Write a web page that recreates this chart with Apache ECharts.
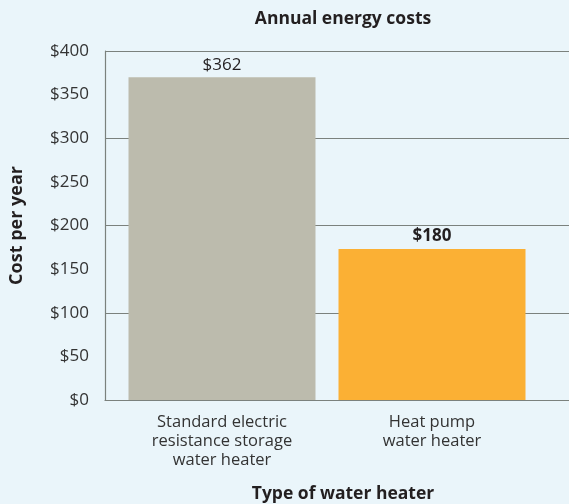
<!DOCTYPE html>
<html>
<head>
<meta charset="utf-8">
<script src="https://cdn.jsdelivr.net/npm/echarts@6/dist/echarts.min.js"></script>
<style>
  html, body { margin: 0; padding: 0; background: #eaf5fa; }
  #chart { width: 569px; height: 504px; }
</style>
</head>
<body>
<div id="chart"></div>
<script>
const categories = [
  'Standard electric\nresistance storage\nwater heater',
  'Heat pump\nwater heater'
];
// bar heights as drawn in the picture, labels as printed on it
const costs = [370, 173];
const costLabels = ['$362', '$180'];
const barColors = ['#bcbbad', '#fbb034'];
const labelWeights = ['normal', 'bold'];

const FONT = '"Open Sans", "Noto Sans", sans-serif';
const LINE = '#7b817d';

const chart = echarts.init(document.getElementById('chart'));

const option = {
  backgroundColor: '#eaf5fa',
  textStyle: { fontFamily: FONT },
  title: [
    {
      text: 'Annual energy costs',
      left: 338, top: 5, textAlign: 'center',
      textStyle: { fontFamily: FONT, fontSize: 17.5, fontWeight: 'bold', color: '#231f20' }
    },
    {
      text: 'Type of water heater',
      left: 338, top: 480, textAlign: 'center',
      textStyle: { fontFamily: FONT, fontSize: 17.5, fontWeight: 'bold', color: '#231f20' }
    }
  ],
  grid: [
    { left: 102, right: 0, top: 51, bottom: 104 },   // frame + gridlines
    { left: 117, right: 32, top: 51, bottom: 104 }   // bars
  ],
  xAxis: [
    {
      gridIndex: 0, type: 'category', data: [''],
      axisLine: { lineStyle: { color: LINE, width: 1.2 } },
      axisTick: { show: false }, axisLabel: { show: false }
    },
    {
      gridIndex: 1, type: 'category', data: categories,
      axisLine: { show: false }, axisTick: { show: false },
      axisLabel: { margin: 13, fontSize: 16.5, lineHeight: 19, color: '#333', fontFamily: FONT }
    }
  ],
  yAxis: [
    {
      gridIndex: 0, type: 'value', min: 0, max: 400, interval: 100,
      axisLine: { show: true, lineStyle: { color: LINE, width: 1.2 } },
      axisTick: { show: false }, axisLabel: { show: false },
      splitLine: { lineStyle: { color: LINE, width: 1.2 } }
    },
    {
      gridIndex: 0, type: 'value', min: 0, max: 400, interval: 50,
      position: 'left',
      axisLine: { show: false }, axisTick: { show: false },
      splitLine: { show: false },
      axisLabel: {
        margin: 16, fontSize: 17, color: '#333', fontFamily: FONT,
        formatter: v => '$' + v
      },
      name: 'Cost per year', nameLocation: 'middle', nameGap: 79, nameRotate: 90,
      nameTextStyle: { fontFamily: FONT, fontSize: 18, fontWeight: 'bold', color: '#231f20' }
    },
    {
      gridIndex: 1, type: 'value', min: 0, max: 400, show: false,
      splitLine: { show: false }
    }
  ],
  series: [
    {
      type: 'bar',
      xAxisIndex: 1, yAxisIndex: 2,
      barWidth: 187,
      data: costs.map((v, i) => ({
        value: v,
        itemStyle: { color: barColors[i] },
        label: {
          show: true, position: 'top', distance: 4,
          formatter: costLabels[i],
          fontSize: 17, fontWeight: labelWeights[i], color: '#231f20', fontFamily: FONT
        }
      })),
      animation: false
    }
  ]
};

chart.setOption(option);
</script>
</body>
</html>
